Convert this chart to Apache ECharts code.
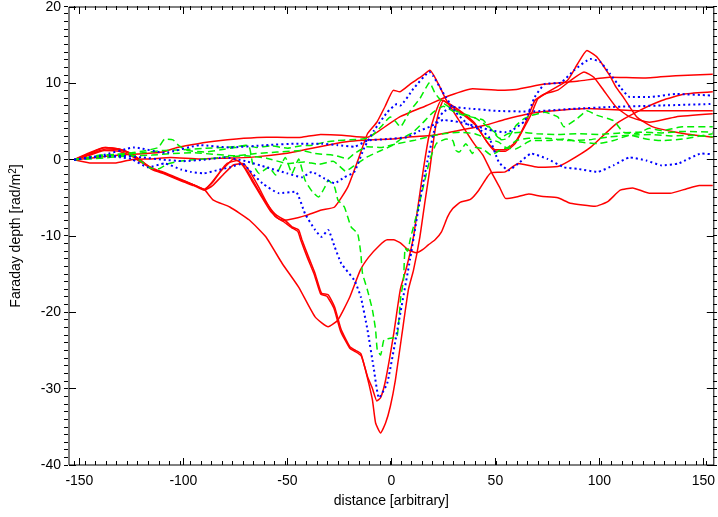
<!DOCTYPE html>
<html>
<head>
<meta charset="utf-8">
<script src="https://cdn.jsdelivr.net/npm/echarts@6/dist/echarts.min.js"></script>
<style>
  html, body { margin: 0; padding: 0; background: #fff; }
  #chart { width: 718px; height: 517px; }
</style>
</head>
<body>
<div id="chart"></div>
<script>
// tick values
const xMajor = [-150, -100, -50, 0, 50, 100, 150];
const xMinor = [];
for (let v = -150; v <= 150; v += 5) xMinor.push(v);

// red solid curves [distance, depth]
const red1 = [[-152.5,0],[-145,0.2],[-135,0.5],[-125,0.7],[-118,0.8],[-110,1.0],[-103,1.6],[-93,2.1],[-82,2.5],[-71,2.8],[-60,2.95],[-50,2.9],[-43,2.95],[-34,3.3],[-24,3.2],[-12,2.9],[-8,3.4],[4,5.6],[17,7.1],[28,8.4],[39,9.3],[52,9.1],[60,9.2],[73.7,9.9],[90,10.3],[105,10.8],[121,10.7],[136.7,11],[154.5,11.2]];
const red2 = [[-152.5,0],[-144,-0.45],[-133,-0.45],[-125,0],[-116,0.1],[-106,0.3],[-92,0.1],[-80,0.2],[-68,0.3],[-51,0.8],[-40,1.4],[-29,2.0],[-20,2.4],[-10,2.6],[0,2.7],[10,3.0],[20,3.2],[30,3.7],[45,4.5],[55,5.3],[70.5,6.2],[94,6.7],[121,6.4],[154.5,6.4]];
const red3 = [[-152.5,0],[-146,0.8],[-138,1.6],[-131,1.4],[-125,0.8],[-120,-0.2],[-115,-1.2],[-109,-1.8],[-101,-2.7],[-95,-3.3],[-90,-3.9],[-86,-3],[-82,-1.5],[-78,-0.4],[-76,0.1],[-73,-0.3],[-69,-1.6],[-65,-3.5],[-61,-5.3],[-56,-7.1],[-51,-7.9],[-45,-7.6],[-41,-7.3],[-33.6,-6.6],[-27.3,-6.2],[-21,-3.6],[-16,0],[-11.5,3.4],[-7,4.9],[-3,7],[1,9.1],[4,8.9],[9,9.9],[14,10.8],[18.5,11.7],[23,9.7],[26,8],[34,4.5],[40,2],[44,0.6],[48,-1.6],[52,-3.6],[55,-5.1],[60,-4.9],[66,-4.5],[72,-4.8],[80,-5],[86,-5.7],[98,-6.1],[104,-5.5],[110,-4],[116,-3.7],[124,-4.4],[134,-4.4],[142,-3.8],[148,-3.4],[154.5,-3.4]];
const red4 = [[-152.5,0],[-146,0.5],[-138,1.2],[-131,1.1],[-125,0.5],[-120,-0.4],[-114,-1.2],[-108,-1.8],[-102,-2.5],[-95,-3.3],[-90,-3.9],[-85.6,-5.3],[-77.7,-6.2],[-68.3,-7.9],[-60.4,-10.1],[-52.5,-13.6],[-44.6,-16.7],[-36.7,-20.6],[-30.4,-21.9],[-25.7,-21],[-20,-18],[-15,-14.5],[-11,-12.8],[-6,-11.3],[-2,-10.5],[1,-10.5],[4.3,-10.9],[8,-11.8],[12,-12.2],[15,-11.8],[17.6,-11.2],[21,-10.5],[24,-9.5],[27,-7.5],[29.5,-6.4],[33,-5.6],[38,-5.2],[42,-4],[46,-2.3],[48,-1.7],[54.7,-1.6],[61,-0.5],[70.5,-1],[80,-0.9],[84.7,-0.3],[95.7,1.6],[108,4.7],[119,6.4],[130,7.75],[141,8.6],[154.5,8.9]];
const red5 = [[-152.5,0],[-146,0.7],[-141,1.3],[-137.5,1.6],[-131,1.4],[-125,0.8],[-120,-0.2],[-115,-1.2],[-109,-1.8],[-101,-2.7],[-95,-3.3],[-90,-3.9],[-87,-3.2],[-83,-1.8],[-79,-0.5],[-74,-0.1],[-71,-0.9],[-67,-2.8],[-63,-4.6],[-58,-6.8],[-54,-7.8],[-51,-8],[-47.8,-8.8],[-44.6,-9.2],[-43,-10.5],[-39.9,-12.7],[-36.7,-14.9],[-33.6,-17.5],[-30.4,-17.7],[-27.3,-19.3],[-24.1,-22.3],[-20,-24.5],[-17.8,-24.9],[-14.7,-25.4],[-12.5,-27.5],[-10.7,-29.5],[-9.1,-31.5],[-7.6,-34.5],[-5.2,-35.8],[-2.8,-34.5],[-0.5,-32.3],[1.9,-28.9],[5,-23],[8.2,-17],[10.6,-14.5],[13.7,-10.1],[16,-5.75],[18.4,-1.4],[20.5,3],[22.5,6],[25,7.8],[28,7.1],[34,6],[40.5,4.5],[47,1.9],[50,1.1],[54.7,1.1],[59.5,2.1],[64,4.3],[67.3,6],[70.5,8.0],[76.8,9.1],[84.7,10.4],[89.4,12.5],[94,14.3],[99,13.4],[105,11],[108,9.5],[111.5,8.2],[118,5.6],[125.7,4.3],[141,3.4],[154.5,2.95]];
const red6 = [[-152.5,0],[-146,0.6],[-140,1.2],[-137,1.4],[-131,1.3],[-125,0.7],[-120,-0.3],[-115,-1.3],[-109,-1.9],[-101,-2.8],[-95,-3.4],[-90,-4.0],[-86,-3.4],[-81,-2],[-76,-0.7],[-71.4,-0.5],[-68,-1.6],[-64,-3.5],[-60,-5.6],[-56,-7.4],[-52,-8.1],[-48,-8.9],[-45,-9.4],[-43.5,-10.6],[-40.3,-12.9],[-37,-15.1],[-34,-17.6],[-31,-17.9],[-27.6,-19.5],[-24.4,-22.5],[-20,-24.7],[-17.6,-25.1],[-14.5,-25.7],[-11.5,-28.4],[-9.1,-30],[-7,-31.6],[-5.2,-31.2],[-2.8,-28.9],[1,-23],[4.3,-17],[7.4,-14],[10.6,-10.1],[15.3,-1.4],[18,3],[21,6],[24,7.8],[28,7.3],[34,6.2],[40,4.8],[46,2.3],[50,1.3],[54.7,1.3],[59.5,2.3],[64,4.5],[69,7.75],[73.7,8.6],[80,9.1],[86.2,10.4],[92.6,11.5],[97.3,10.8],[102,9.1],[108,6.9],[114.6,5.6],[124,4.9],[136.7,5.6],[154.5,6.0]];

// blue dotted curves
const blue1 = [[-152.5,0],[-145,0.3],[-138,0.5],[-130,0.3],[-125,0.1],[-117,-1],[-109,-0.5],[-101,-1.3],[-96.6,-1.6],[-90.3,-1.8],[-84,-1.4],[-77.7,-1],[-71.4,-0.5],[-68.3,-1.4],[-62,-3.1],[-54,-4.4],[-46,-4.2],[-41.5,-7.1],[-36.7,-9.2],[-33.6,-10.1],[-30.4,-9.2],[-27.3,-11.4],[-24.1,-13.6],[-17.8,-15.8],[-14.7,-18],[-11.5,-22.3],[-8.4,-27.5],[-6,-31.2],[-2,-29.3],[4.3,-20.1],[9,-13],[13.7,-5.3],[16.9,-0.75],[21.6,4.9],[24.8,6.2],[29.5,6.9],[37.4,6.7],[50,6.4],[65.8,6.3],[89.4,6.7],[105,6.9],[130,7.1],[154.5,7.3]];
const blue2 = [[-152.5,0],[-140,0.4],[-130,0.5],[-120,0.3],[-110,0],[-100,-0.2],[-90,0],[-80,0.3],[-70,-0.2],[-60,-1],[-50,-1.8],[-43,-2.3],[-38.3,-1.6],[-32,-2.5],[-27.3,-3.1],[-22.6,-2.3],[-17.8,-1.6],[-13,1.6],[-8.4,3.8],[-2,6.2],[2.7,7.3],[4.3,7.1],[10.6,9.3],[18.4,11.5],[20,11],[24.8,8.8],[31,6.2],[37.4,4.5],[42,4.0],[46.8,3],[51.6,-0.3],[56.3,-1.4],[61,-0.5],[67.3,0.8],[75,0.1],[83,-1],[89.4,-1.2],[99,-1.6],[106.8,-0.75],[114.6,0.3],[122.5,-0.1],[130,-0.75],[138,-0.5],[149,0.8],[154.5,0.7]];
const blue3 = [[-152.5,0],[-140,0.5],[-123.5,1.6],[-109,0.9],[-92,1.9],[-77.7,1.6],[-60.4,1.9],[-44.6,2.1],[-33.6,2.1],[-25.7,1.9],[-17.8,1.7],[-11.5,2.5],[-2,2.7],[7.4,2.95],[13.7,3.8],[18.4,4.3],[25,5.2],[33,4.9],[42,4.3],[48.4,3.8],[54.7,3.6],[57.8,3.8],[64.2,5.1],[68.9,8.2],[73.7,9.9],[81.5,10.1],[87.8,11.7],[95.7,13.2],[100.4,12.8],[105.2,11.2],[110,9.5],[114.6,8.2],[124,8.2],[136.7,8.6],[154.5,8.4]];

// green dashed curves
const green1 = [[-152.5,0],[-145,0.3],[-138,0.6],[-130,0.7],[-120,0.9],[-110,1.2],[-100,1.3],[-90,1.5],[-80,1.6],[-72,1.8],[-68.3,1.6],[-66.7,-0.5],[-63.6,-1.8],[-58.9,-1],[-55.7,-2],[-51,0.3],[-47.8,-1.8],[-44.6,0.1],[-41.5,-2.7],[-38,-4.2],[-35,-4.9],[-32,-3.6],[-30.4,-2.7],[-27.3,-3.6],[-25.7,-5.3],[-22.6,-6.2],[-19.4,-8.8],[-16.2,-9.7],[-14.7,-12.3],[-13.9,-14.9],[-11.5,-17.1],[-9.1,-19.7],[-7.6,-22.3],[-6.8,-24.9],[-5.2,-25.6],[-3.6,-23.6],[-0.5,-23.4],[2.7,-23.2],[4.5,-18],[5.8,-15.8],[6.6,-11.6],[7.8,-12],[9,-10.5],[12.2,-7.1],[15.3,-3.6],[18.4,-0.1],[21.6,2.1],[26.3,2.7],[29.5,2.5],[31,1.2],[32.6,1],[35.8,2.1],[39,0.8],[40.5,1.6],[44,1.4],[48,0.6],[52,1.2],[56,1.6],[60,2.5],[66,2.8],[75,2.8],[85,2.5],[95,2.6],[105,3.0],[115,3.2],[125,3.3],[135,3.1],[145,3.2],[154.5,3.0]];
const green2 = [[-152.5,0],[-146,0.3],[-140,0.6],[-132,0.7],[-125,0.9],[-118,1.2],[-112,1.6],[-109,2.7],[-105,2.6],[-102,1.8],[-98,1.2],[-90,1.0],[-82,1.3],[-75,1.6],[-70,1.9],[-65,1.6],[-58,1.8],[-50,1.5],[-44,1.8],[-38,1.9],[-32,2.3],[-26,2.5],[-20,2.6],[-14,2.7],[-10,3],[-5,4.3],[-0.5,5.6],[2,5],[4.3,4.3],[9,6.4],[13.7,8],[18.4,10.1],[20.8,8.8],[23,8],[26,7.2],[30,6.5],[35,6],[40,5.5],[45,4.6],[50,3.5],[53,2.6],[56,2.8],[60,4.5],[64,5.4],[67.3,5.8],[73.7,6.2],[80,5.6],[83,4.3],[89.4,5.4],[94,6.4],[99,5.8],[106.8,5.1],[111.5,3.6],[117.8,3.4],[124,4.1],[130,3.8],[140,4.3],[154.5,4.3]];
const green3 = [[-152.5,0],[-145,0.1],[-135,0.3],[-125,0.5],[-115,0.6],[-105,0.8],[-95,0.9],[-85,0.7],[-75,0.5],[-65,0.8],[-55,1.0],[-43,1.2],[-36.7,0.8],[-27.3,0.56],[-21,0.1],[-17.8,0.8],[-11.5,1.7],[-5.2,1.6],[2.7,2.1],[10.6,2.5],[16.9,2.95],[25,3.4],[33,3.6],[40,3.4],[46,2.8],[51.6,2.3],[55,1.6],[59.5,1.4],[67.3,2.5],[75,2.5],[83,2.7],[91,2.3],[99,2.1],[106.8,2.5],[114.6,3.2],[122.5,2.7],[130,2.5],[140,2.7],[154.5,3.4]];
const green4 = [[-152.5,0],[-145,0.3],[-135,0.5],[-125,0.6],[-120,-0.3],[-116,-1.1],[-112,-1.2],[-108,-0.6],[-102,-0.2],[-95,0],[-85,0.2],[-78,0.4],[-70,0.5],[-60,0.2],[-50,-0.5],[-42,-0.3],[-35,-0.6],[-28,-0.2],[-22,-1.5],[-18,-0.8],[-12,0.3],[-5,1.2],[0,1.8],[5,2.8],[10,3.5],[15,4.8],[20,6.2],[25,7],[30,6.3],[35,5.8],[40,5.5],[44,5.2],[48,4],[52,2.8],[56,3.4],[62,3.6],[70,3.4],[80,3.3],[90,3.4],[100,3.3],[110,3.5],[120,3.6],[130,3.5],[140,3.7],[154.5,3.6]];

const FONT = 'Liberation Sans, Arial, sans-serif';
const chart = echarts.init(document.getElementById('chart'));

function curve (data, color, dash) {
  return {
    type: 'line',
    data: data,
    symbol: 'none',
    smooth: 0.15,
    silent: true,
    lineStyle: { color: color, width: dash === 'dot' ? 2 : 1.5, type: dash === 'dot' ? [2, 3] : dash === 'dash' ? [7, 4] : 'solid' },
  }
}

// ticks drawn inside the frame, gnuplot style
function ticks (len, extra) {
  return Object.assign({ inside: true, length: len, lineStyle: { color: '#000', width: 1 } }, extra)
}
const noLine = { show: false, onZero: false }
const frame = { left: 64, right: 1, top: 6, bottom: 52 }
const xBase = { type: 'value', min: -155, max: 155, splitLine: { show: false }, axisLine: noLine }
const yBase = { type: 'value', min: -40, max: 20, splitLine: { show: false }, axisLine: noLine }

const option = {
  animation: false,
  backgroundColor: '#fff',
  // grid 0 carries the data and the major ticks, grid 1 only the minor ticks
  grid: [
    { ...frame, show: true, borderColor: '#000', borderWidth: 1, backgroundColor: 'transparent' },
    { ...frame },
  ],
  xAxis: [
    {
      ...xBase, gridIndex: 0, position: 'bottom',
      axisTick: ticks(7, { customValues: xMajor }),
      axisLabel: { customValues: xMajor, margin: 9, fontSize: 14, color: '#000', fontFamily: FONT },
      name: 'distance [arbitrary]', nameLocation: 'middle', nameGap: 29,
      nameTextStyle: { fontSize: 14, color: '#000', fontFamily: FONT },
    },
    { ...xBase, gridIndex: 0, position: 'top', axisLabel: { show: false }, axisTick: ticks(7, { customValues: xMajor }) },
    { ...xBase, gridIndex: 1, position: 'bottom', axisLabel: { show: false }, axisTick: ticks(4, { customValues: xMinor }) },
    { ...xBase, gridIndex: 1, position: 'top', axisLabel: { show: false }, axisTick: ticks(4, { customValues: xMinor }) },
  ],
  yAxis: [
    {
      ...yBase, gridIndex: 0, position: 'left', interval: 10,
      axisTick: ticks(7),
      axisLabel: { margin: 8, fontSize: 14, color: '#000', fontFamily: FONT },
      name: 'Faraday depth [rad/m{sup|2}]', nameLocation: 'middle', nameGap: 44,
      nameTextStyle: { fontSize: 14, color: '#000', fontFamily: FONT,
        rich: { sup: { fontSize: 10, color: '#000', fontFamily: FONT, verticalAlign: 'top', padding: [0, 0, 7, 0] } } },
    },
    { ...yBase, gridIndex: 0, position: 'right', interval: 10, axisLabel: { show: false }, axisTick: ticks(7) },
    { ...yBase, gridIndex: 1, position: 'left', interval: 1, axisLabel: { show: false }, axisTick: ticks(4) },
    { ...yBase, gridIndex: 1, position: 'right', interval: 1, axisLabel: { show: false }, axisTick: ticks(4) },
  ],
  series: [
    curve(red1, '#ff0000'), curve(red2, '#ff0000'), curve(red3, '#ff0000'),
    curve(red4, '#ff0000'), curve(red5, '#ff0000'), curve(red6, '#ff0000'),
    curve(green1, '#00ee00', 'dash'), curve(green2, '#00ee00', 'dash'),
    curve(green3, '#00ee00', 'dash'), curve(green4, '#00ee00', 'dash'),
    curve(blue1, '#0000ff', 'dot'), curve(blue2, '#0000ff', 'dot'), curve(blue3, '#0000ff', 'dot'),
  ],
}
chart.setOption(option)
</script>
</body>
</html>
